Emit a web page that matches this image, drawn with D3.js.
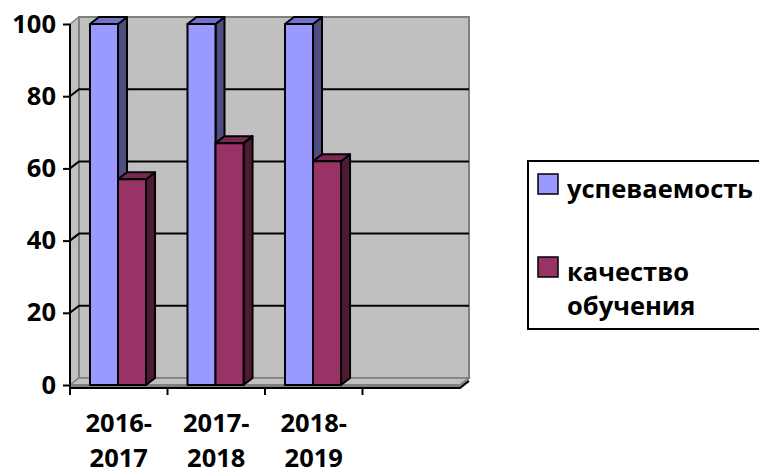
<!DOCTYPE html>
<html><head><meta charset="utf-8">
<script src="https://cdn.jsdelivr.net/npm/d3@7"></script>
<style>
html,body{margin:0;padding:0;background:#fff;}
text{font-family:"Open Sans",sans-serif;font-weight:bold;}
</style></head>
<body>
<svg id="chart" width="759" height="474"></svg>
<script>
const categories = ["2016-2017", "2017-2018", "2018-2019", ""];
const categoryLines = [["2016-", "2017"], ["2017-", "2018"], ["2018-", "2019"], []];
const seriesNames = ["успеваемость", "качество обучения"];
const legendLines = [["успеваемость"], ["качество", "обучения"]];
const uspevaemost = [100, 100, 100, null];
const kachestvo = [57, 67, 62, null];
const yTicks = [0, 20, 40, 60, 80, 100];

const seriesValues = [uspevaemost, kachestvo];
const colors = [
  {front: "#9999FF", top: "#7373C8", side: "#4D4D80"},
  {front: "#993366", top: "#7A2952", side: "#4D1A33"}
];

const svg = d3.select("#chart");
const DX = 9, DY = -7;
const FS = 25.5;
const x = d3.scaleBand().domain(categories).range([70, 460]).padding(0);
const bw = x.bandwidth();
const xi = d3.scaleBand().domain(seriesNames).range([bw * 0.205, bw * 0.78]).padding(0);
const y = d3.scaleLinear().domain([0, 100]).range([385, 24]);
const y0 = y(0), yTop = y(100);
const xL = x.range()[0], xR = x.range()[1];

// side wall
svg.append("polygon")
  .attr("points", [[xL, yTop], [xL + DX, yTop + DY], [xL + DX, y0 + DY], [xL, y0]].join(" "))
  .attr("fill", "#c0c0c0").attr("stroke", "#808080").attr("stroke-width", 1.5);
// back wall
svg.append("rect")
  .attr("x", xL + DX).attr("y", yTop + DY).attr("width", xR - xL).attr("height", y0 - yTop)
  .attr("fill", "#c0c0c0").attr("stroke", "#808080").attr("stroke-width", 2);
// floor
svg.append("polygon")
  .attr("points", [[xL, y0], [xL + DX, y0 + DY], [xR + DX, y0 + DY], [xR, y0]].join(" "))
  .attr("fill", "#c0c0c0").attr("stroke", "#808080").attr("stroke-width", 1.5);
svg.append("polygon")
  .attr("points", [[xL, y0 - 1], [xR, y0 - 1], [xR + DX, y0 + DY - 1], [xR + DX, y0 + DY + 2], [xR, y0 + 3], [xL, y0 + 3]].join(" "))
  .attr("fill", "#808080");

// gridlines
yTicks.filter(v => v > 0 && v < 100).forEach(v => {
  svg.append("polyline")
    .attr("points", [[xL, y(v)], [xL + DX, y(v) + DY], [xR + DX, y(v) + DY]].join(" "))
    .attr("fill", "none").attr("stroke", "#000").attr("stroke-width", 2);
});

// bars
categories.forEach((c, ci) => {
  seriesNames.forEach((s, si) => {
    const v = seriesValues[si][ci];
    if (v == null) return;
    const bx = x(c) + xi(s), w = xi.bandwidth(), by = y(v);
    const g = svg.append("g").attr("stroke", "#000").attr("stroke-width", 2).attr("stroke-linejoin", "round");
    g.append("polygon")
      .attr("points", [[bx + w, by], [bx + w + DX, by + DY], [bx + w + DX, y0 + DY], [bx + w, y0]].join(" "))
      .attr("fill", colors[si].side);
    g.append("polygon")
      .attr("points", [[bx, by], [bx + DX, by + DY], [bx + w + DX, by + DY], [bx + w, by]].join(" "))
      .attr("fill", colors[si].top);
    g.append("rect").attr("x", bx).attr("y", by).attr("width", w).attr("height", y0 - by)
      .attr("fill", colors[si].front);
  });
});

// x axis line
svg.append("polyline")
  .attr("points", [[xL, y0 + 3], [xR, y0 + 3], [xR + DX, y0 + DY + 3]].join(" "))
  .attr("fill", "none").attr("stroke", "#000").attr("stroke-width", 2);
// x ticks & labels
categories.forEach((c, ci) => {
  svg.append("line").attr("x1", x(c)).attr("x2", x(c)).attr("y1", y0 + 3).attr("y2", y0 + 10)
    .attr("stroke", "#000").attr("stroke-width", 2);
  categoryLines[ci].forEach((ln, li) => {
    svg.append("text").attr("x", x(c) + bw / 2).attr("y", 432 + li * 35)
      .attr("text-anchor", "middle").attr("font-size", FS).attr("fill", "#000").text(ln);
  });
});

// y axis
const yAxis = d3.axisLeft(y).tickValues(yTicks).tickSize(7).tickPadding(7).tickSizeOuter(0);
const ya = svg.append("g").attr("transform", `translate(${xL},0)`).call(yAxis);
ya.select(".domain").attr("stroke", "#000").attr("stroke-width", 2)
  .attr("d", `M0,${yTop}V${y0 + 3}`);
ya.selectAll(".tick line").attr("stroke", "#000").attr("stroke-width", 2);
ya.selectAll(".tick text").attr("font-size", FS).attr("font-family", "Open Sans").attr("font-weight", "bold").attr("fill", "#000");

// legend
const lg = svg.append("g");
lg.append("rect").attr("x", 528).attr("y", 161).attr("width", 260).attr("height", 168)
  .attr("fill", "#fff").attr("stroke", "#000").attr("stroke-width", 2);
const legendY = [174, 257];
seriesNames.forEach((s, si) => {
  lg.append("rect").attr("x", 538).attr("y", legendY[si]).attr("width", 20).attr("height", 20)
    .attr("fill", colors[si].front).attr("stroke", "#000").attr("stroke-width", 1.5);
  legendLines[si].forEach((ln, li) => {
    lg.append("text").attr("x", 567).attr("y", legendY[si] + 24 + li * 34)
      .attr("font-size", FS).attr("fill", "#000").text(ln);
  });
});
</script>
</body></html>
